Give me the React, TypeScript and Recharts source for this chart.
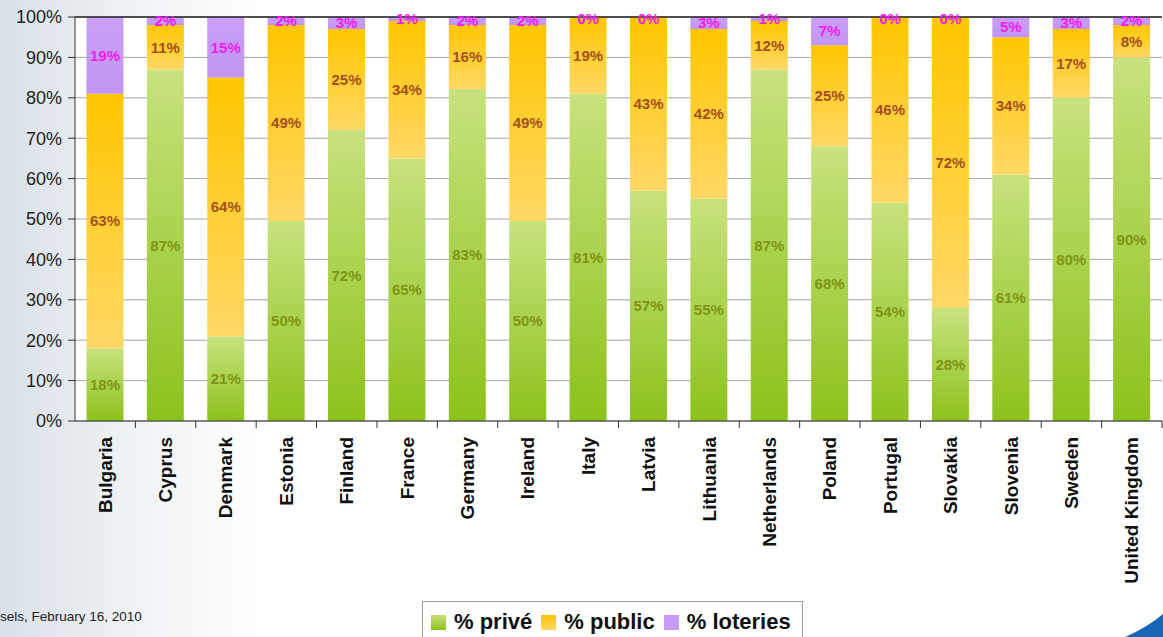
import { BarChart, Bar, XAxis, YAxis, CartesianGrid, LabelList, Legend, ReferenceLine } from "recharts"

const countries = [
  "Bulgaria", "Cyprus", "Denmark", "Estonia", "Finland", "France", "Germany", "Ireland", "Italy",
  "Latvia", "Lithuania", "Netherlands", "Poland", "Portugal", "Slovakia", "Slovenia", "Sweden", "United Kingdom",
]
const prive = [18, 87, 21, 50, 72, 65, 83, 50, 81, 57, 55, 87, 68, 54, 28, 61, 80, 90]
const publicShare = [63, 11, 64, 49, 25, 34, 16, 49, 19, 43, 42, 12, 25, 46, 72, 34, 17, 8]
const loteries = [19, 2, 15, 2, 3, 1, 2, 2, 0, 0, 3, 1, 7, 0, 0, 5, 3, 2]
const yTicks = [0, 0.1, 0.2, 0.3, 0.4, 0.5, 0.6, 0.7, 0.8, 0.9, 1]

const seriesNames = ["% privé", "% public", "% loteries"]

const data = countries.map((country, i) => ({
  country,
  prive: prive[i],
  public: publicShare[i],
  loteries: loteries[i],
}))

const font = "'Liberation Sans', Arial, sans-serif"
const halfBand = 1087 / countries.length / 2
const lotColor = "#f01cf0"

const CountryTick = (props: any) => {
  const { x, y, payload } = props
  return (
    <g>
      <line x1={x + halfBand} x2={x + halfBand} y1={y} y2={y + 7} stroke="#333" />
      <text
        transform={`translate(${x + 6.5},${y + 16}) rotate(-90)`}
        textAnchor="end"
        fontFamily={font}
        fontWeight="bold"
        fontSize={19}
        fill="#111"
      >
        {payload.value}
      </text>
    </g>
  )
}

// zero-height loteries segments get no label of their own, so draw "0%" on top of the public bar
const ZeroLotLabel = (props: any) => {
  const { x, y, width, index } = props
  if (loteries[index] !== 0) return null
  return (
    <text
      x={x + width / 2}
      y={y + 1}
      textAnchor="middle"
      dominantBaseline="central"
      fontFamily={font}
      fontWeight="bold"
      fontSize={15}
      fill={lotColor}
    >
      0%
    </text>
  )
}

const legendSwatch = [
  "linear-gradient(#c6e07a, #8cc21f)",
  "linear-gradient(#ffc400, #ffd866)",
  "#c69bf5",
]

const LegendBox = () => (
  <div
    style={{
      border: "1px solid #9a9a9a",
      background: "#fff",
      height: 42,
      display: "flex",
      alignItems: "flex-start",
      paddingTop: 7,
      paddingLeft: 8,
      fontFamily: font,
      fontWeight: "bold",
      fontSize: 22,
      lineHeight: "26px",
      color: "#111",
      boxSizing: "border-box",
    }}
  >
    {seriesNames.map((n, i) => (
      <span key={n} style={{ display: "flex", alignItems: "center", marginRight: 9 }}>
        <span style={{ width: 15, height: 15, background: legendSwatch[i], marginRight: 8, display: "inline-block" }} />
        {n}
      </span>
    ))}
  </div>
)

export default function App() {
  return (
    <div
      style={{
        position: "absolute",
        left: 0,
        top: 0,
        width: 1163,
        height: 637,
        overflow: "hidden",
        background: "linear-gradient(to right, #d8e0e7 0px, #eef1f4 120px, #ffffff 260px)",
      }}
    >
      <div
        style={{
          position: "absolute",
          left: 0,
          top: 609,
          fontFamily: font,
          fontSize: 13.5,
          color: "#222",
        }}
      >
        sels, February 16, 2010
      </div>
      <svg width={1163} height={637} style={{ position: "absolute", left: 0, top: 0 }}>
        <path d="M1125 637 Q1148 627 1163 614 L1163 637 Z" fill="#1565b8" />
      </svg>
      <div style={{ position: "absolute", left: 0, top: 0 }}>
        <BarChart
          width={1163}
          height={637}
          data={data}
          stackOffset="expand"
          barCategoryGap="19%"
          margin={{ top: 17, right: 1, bottom: 0, left: 0 }}
        >
          <defs>
            <linearGradient id="gPrive" x1="0" y1="0" x2="0" y2="1">
              <stop offset="0%" stopColor="#c8e27e" />
              <stop offset="100%" stopColor="#8cc21c" />
            </linearGradient>
            <linearGradient id="gPublic" x1="0" y1="0" x2="0" y2="1">
              <stop offset="0%" stopColor="#ffc600" />
              <stop offset="100%" stopColor="#ffd866" />
            </linearGradient>
            <linearGradient id="gLot" x1="0" y1="0" x2="0" y2="1">
              <stop offset="0%" stopColor="#c99ff7" />
              <stop offset="100%" stopColor="#c195f2" />
            </linearGradient>
          </defs>
          <CartesianGrid vertical={false} stroke="#a6a6a6" fill="#ffffff" />
          <XAxis
            dataKey="country"
            interval={0}
            tickLine={false}
            tickSize={0}
            tickMargin={0}
            height={181}
            axisLine={{ stroke: "#333" }}
            tick={<CountryTick />}
          />
          <YAxis
            width={75}
            ticks={yTicks}
            domain={[0, 1]}
            tickSize={7}
            tickMargin={6}
            tickFormatter={(v: number) => `${Math.round(v * 100)}%`}
            tick={{ fontFamily: font, fontSize: 18, fill: "#222" }}
            tickLine={{ stroke: "#333" }}
            axisLine={{ stroke: "#333" }}
          />
          <ReferenceLine y={1} stroke="#222" strokeWidth={1.5} />
          <Legend
            verticalAlign="bottom"
            height={35}
            content={() => <LegendBox />}
            wrapperStyle={{ left: 422, width: 381, top: 601, bottom: "auto" }}
          />
          <Bar dataKey="prive" name={seriesNames[0]} stackId="a" fill="url(#gPrive)" isAnimationActive={false}>
            <LabelList
              dataKey="prive"
              position="center"
              formatter={(v: any) => `${v}%`}
              style={{ fontFamily: font, fontWeight: "bold", fontSize: 15, fill: "#7f9414" }}
            />
          </Bar>
          <Bar dataKey="public" name={seriesNames[1]} stackId="a" fill="url(#gPublic)" isAnimationActive={false}>
            <LabelList
              dataKey="public"
              position="center"
              formatter={(v: any) => `${v}%`}
              style={{ fontFamily: font, fontWeight: "bold", fontSize: 15, fill: "#a4501c" }}
            />
            <LabelList dataKey="loteries" content={<ZeroLotLabel />} />
          </Bar>
          <Bar dataKey="loteries" name={seriesNames[2]} stackId="a" fill="url(#gLot)" isAnimationActive={false}>
            <LabelList
              dataKey="loteries"
              position="center"
              formatter={(v: any) => `${v}%`}
              style={{ fontFamily: font, fontWeight: "bold", fontSize: 15, fill: lotColor }}
            />
          </Bar>
        </BarChart>
      </div>
    </div>
  )
}
